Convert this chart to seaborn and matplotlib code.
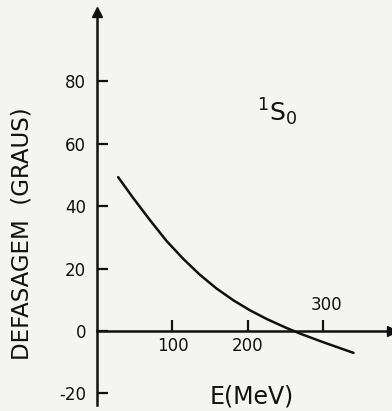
import numpy as np
import pandas as pd
import seaborn as sns
import matplotlib.pyplot as plt

# 1S0 phase shift
energy = [28, 48, 70, 92, 114, 136, 158, 181, 203, 225, 251, 270, 300, 340]
phase = [49.3, 42.6, 35.6, 28.9, 23.2, 18.1, 13.7, 9.8, 6.6, 3.85, 1.0, -0.9, -3.6, -7.0]
yticks = [-20, 0, 20, 40, 60, 80]
xticks = [100, 200, 300]

df = pd.DataFrame({"E": energy, "delta": phase})

sns.set_theme(style="white")
plt.rcParams["font.family"] = ["DejaVu Sans"]
plt.rcParams["mathtext.fontset"] = "dejavusans"
ink = "#111111"
paper = "#f4f4f2"

fig = plt.figure(figsize=(3.92, 4.11), dpi=100, facecolor=paper)
ax = fig.add_axes([97 / 392, 6 / 411, 1 - 97 / 392, (405 - 12) / 411])
ax.set_facecolor(paper)

sns.lineplot(data=df, x="E", y="delta", color=ink, linewidth=1.8, ax=ax)

ax.set_xlim(0, 391)
ax.set_ylim(-23.7, 102.2)

for s in ["top", "right"]:
    ax.spines[s].set_visible(False)
ax.spines["bottom"].set_position(("data", 0))
for s in ["left", "bottom"]:
    ax.spines[s].set_color(ink)
    ax.spines[s].set_linewidth(1.8)

# arrow heads on the axes
ax.plot(1, 0, ">", color=ink, markersize=7, transform=ax.get_yaxis_transform(), clip_on=False)
ax.plot(0, 1, "^", color=ink, markersize=7, transform=ax.get_xaxis_transform(), clip_on=False)

ax.set_yticks(yticks)
ax.set_yticklabels([str(v) for v in yticks])
ax.set_xticks(xticks)
ax.set_xticklabels([str(v) if v < 300 else "" for v in xticks])
ax.tick_params(axis="both", direction="in", length=8, width=1.6, color=ink,
               labelsize=12, labelcolor=ink)
ax.tick_params(axis="y", pad=8)
ax.tick_params(axis="x", pad=4)
ax.tick_params(left=True, bottom=True)

# 300 label sits above the axis
ax.annotate("300", xy=(xticks[-1], 0), xytext=(2, 12), textcoords="offset points",
            ha="center", va="bottom", fontsize=12, color=ink)

ax.set_xlabel("")
ax.set_ylabel("")
fig.text(22 / 392, 1 - 234 / 411, "DEFASAGEM  (GRAUS)", rotation=90, ha="center", va="center",
         fontsize=16.5, color=ink)
fig.text(252 / 392, 1 - 396 / 411, "E(MeV)", ha="center", va="center", fontsize=17, color=ink)
ax.text(238, 70, r"$^{1}\mathrm{S}_{0}$", ha="center", va="center", fontsize=18, color=ink)

fig.savefig("out.png", dpi=100, facecolor=paper)
